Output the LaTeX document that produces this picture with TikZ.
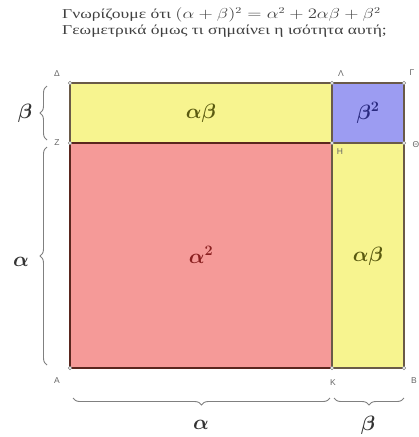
\documentclass[tikz,border=0pt]{standalone}
\usepackage{amsmath,amssymb}
\usepackage{graphicx}
\usepackage{fontspec}
\setmainfont{Liberation Serif}
\newfontfamily\vlabfont{Liberation Sans}
\usetikzlibrary{decorations.pathreplacing}
\definecolor{yel}{HTML}{F7F48F}
\definecolor{pinkred}{HTML}{F59A98}
\definecolor{lblue}{HTML}{9C9CF2}
\definecolor{edgec}{HTML}{6A5A48}
\definecolor{bracec}{HTML}{808080}
\definecolor{txtol}{HTML}{5A5A10}
\definecolor{txtbl}{HTML}{2A2A80}
\definecolor{txtrd}{HTML}{8A2020}
\begin{document}
\begin{tikzpicture}[x=1pt,y=-1pt,
  region/.style={draw=edgec,line width=1.2pt},
  vtx/.style={circle,draw=gray,fill=white,inner sep=0pt,minimum size=3.5pt,line width=0.5pt},
  vlab/.style={font=\vlabfont\fontsize{8.5}{9}\selectfont,text=gray!80!black,inner sep=0pt},
  brc/.style={decorate,decoration={brace,amplitude=7pt},draw=bracec,line width=0.9pt},
  mlab/.style={font=\fontsize{20}{24}\selectfont,inner sep=0pt},
  sidelab/.style={font=\fontsize{20}{24}\selectfont,inner sep=0pt,text=black!80},
  title/.style={font=\fontsize{13.5}{15}\selectfont,text=black!75,anchor=west,inner sep=0pt}]
\useasboundingbox (0,0) rectangle (419,437);
% coordinates
\coordinate (D) at (70,83);
\coordinate (L) at (332,83);
\coordinate (G) at (404,83);
\coordinate (Z) at (70,143);
\coordinate (H) at (332,143);
\coordinate (T) at (404,143);
\coordinate (A) at (70,368);
\coordinate (K) at (332,368);
\coordinate (B) at (404,368);
% regions
\fill[yel] (D) rectangle (H);
\fill[lblue] (L) rectangle (T);
\fill[pinkred] (Z) rectangle (K);
\fill[yel] (H) rectangle (B);
\draw[region] (D) rectangle (H);
\draw[region] (L) rectangle (T);
\draw[region,draw=edgec!70!red!60!black] (Z) rectangle (K);
\draw[region] (H) rectangle (B);
% vertices
\foreach \p in {D,L,G,Z,H,T,A,K,B} \node[vtx] at (\p) {};
% vertex labels
\node[vlab] (lD) at (57,74) {Δ};
\node[vlab] (lL) at (341,74) {Λ};
\node[vlab] (lG) at (412,73) {Γ};
\node[vlab] (lZ) at (57,143) {Z};
\node[vlab] (lH) at (340,152) {H};
\node[vlab] (lT) at (416,145) {Θ};
\node[vlab] (lA) at (57,381) {A};
\node[vlab] (lK) at (333,383) {K};
\node[vlab] (lB) at (414,381) {B};
% area labels
\node[mlab,text=txtol] (ab1) at (201,113) {$\boldsymbol{\alpha\beta}$};
\node[mlab,text=txtbl] (b2) at (368,113) {$\boldsymbol{\beta^2}$};
\node[mlab,text=txtrd] (a2) at (201,255) {$\boldsymbol{\alpha^2}$};
\node[mlab,text=txtol] (ab2) at (368,256) {$\boldsymbol{\alpha\beta}$};
% braces
\coordinate (bl1) at (47,140);
\coordinate (bl2) at (47,86);
\coordinate (bl3) at (47,365);
\coordinate (bl4) at (47,147);
\draw[brc] (bl1) -- (bl2);
\draw[brc] (bl3) -- (bl4);
\coordinate (bb1) at (73,398);
\coordinate (bb2) at (330,398);
\coordinate (bb3) at (334,398);
\coordinate (bb4) at (404,398);
\draw[brc,decoration={mirror}] (bb1) -- (bb2);
\draw[brc,decoration={mirror}] (bb3) -- (bb4);
\node[sidelab] (sb) at (25,113) {$\boldsymbol{\beta}$};
\node[sidelab] (sa) at (21,262) {$\boldsymbol{\alpha}$};
\node[sidelab] (ba) at (201,425) {$\boldsymbol{\alpha}$};
\node[sidelab] (bbe) at (368,425) {$\boldsymbol{\beta}$};
% title
\node[title] (t1) at (62,15) {\scalebox{1.3}[1]{Γνωρίζουμε ότι $(\alpha+\beta)^2=\alpha^2+2\alpha\beta+\beta^2$}};
\node[title] (t2) at (62,31) {\scalebox{1.3}[1]{Γεωμετρικά όμως τι σημαίνει η ισότητα αυτή;}};
\end{tikzpicture}
\end{document}
